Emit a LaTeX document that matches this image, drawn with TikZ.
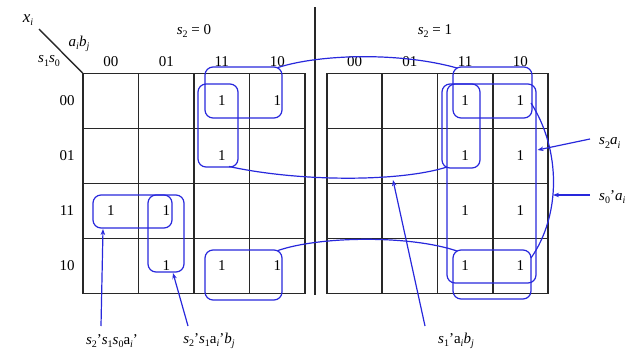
\documentclass[tikz,border=0pt]{standalone}
\usepackage{fontspec}
\setmainfont{Liberation Serif}
\usetikzlibrary{arrows.meta}
\newcommand\sbs[1]{\raisebox{-0.45ex}{\fontsize{10}{11}\selectfont #1}}
\newcommand\iv[1]{\textit{#1}}
\definecolor{loopblue}{RGB}{40,40,220}
\definecolor{gridgray}{RGB}{40,40,40}
\begin{document}
\begin{tikzpicture}[x=1pt,y=-1pt,
  gridline/.style={draw=gridgray,line width=1.6pt,line cap=rect},
  kloop/.style={draw=loopblue,line width=1.2pt,rounded corners=8pt},
  kcurve/.style={draw=loopblue,line width=1.2pt},
  arr/.style={draw=loopblue,line width=1.2pt,-{Stealth[length=6pt,width=4.5pt]}},
  one/.style={font=\fontsize{15}{17}\selectfont,inner sep=0pt},
  lbl/.style={font=\fontsize{15}{17}\selectfont,inner sep=0pt}]
\useasboundingbox (0,0) rectangle (634,356);
% separator
\draw[draw=gridgray,line width=1.4pt] (315,7) -- (315,295);
% left grid
\foreach \x in {83,138.5,194,249.5,305} \draw[gridline] (\x,73.5) -- (\x,293.5);
\foreach \y in {73.5,128.5,183.5,238.5,293.5} \draw[gridline] (83,\y) -- (305,\y);
% right grid
\foreach \x in {327,382.25,437.5,492.75,548} \draw[gridline] (\x,73.5) -- (\x,293.5);
\foreach \y in {73.5,128.5,183.5,238.5,293.5} \draw[gridline] (327,\y) -- (548,\y);
% diagonal
\draw[draw=gridgray,line width=1.4pt] (39,29) -- (83,73.5);
% headings
\node[lbl,font=\fontsize{17}{19}\selectfont] (xi) at (28,20) {\iv{x}\sbs{\iv{i}}};
\node[lbl] (ab) at (79,44) {\iv{a}\sbs{\iv{i}}\iv{b}\sbs{\iv{j}}};
\node[lbl] (ss) at (49,61) {\iv{s}\sbs{1}\iv{s}\sbs{0}};
\node[lbl] (h0) at (194,31) {\iv{s}\sbs{2} = 0};
\node[lbl] (h1) at (435,31) {\iv{s}\sbs{2} = 1};
\foreach \t/\x [count=\i] in {00/110.75,01/166.25,11/221.75,10/277.25}
  \node[lbl] (lc\i) at (\x,62) {\t};
\foreach \t/\x [count=\i] in {00/354.6,01/409.9,11/465.1,10/520.4}
  \node[lbl] (rc\i) at (\x,62) {\t};
\foreach \t/\y [count=\i] in {00/101,01/156,11/211,10/266}
  \node[lbl] (rr\i) at (67,\y) {\t};
% ones
\foreach \x/\y [count=\i] in {221.75/101,277.25/101,221.75/156,110.75/211,166.25/211,166.25/266,221.75/266,277.25/266}
  \node[one] (lo\i) at (\x,\y) {1};
\foreach \y [count=\i] in {101,156,211,266} {
  \node[one] (ra\i) at (465.1,\y) {1};
  \node[one] (rb\i) at (520.4,\y) {1};
}
% loops left
\draw[kloop] (205,67) rectangle (282,118);
\draw[kloop] (198,84) rectangle (238,167);
\draw[kloop] (93,195) rectangle (172,228);
\draw[kloop] (148,195) rectangle (184,272);
\draw[kloop] (205,250) rectangle (282,300);
% loops right
\draw[kloop] (453,67) rectangle (532,118);
\draw[kloop] (442,84) rectangle (480,168);
\draw[kloop] (447,84) rectangle (536,283);
\draw[kloop] (453,250) rectangle (531,299);
% connecting curves
\draw[kcurve] (278,67.5) .. controls (320,54) and (400,52) .. (457,68);
\draw[kcurve] (229,166.5) .. controls (300,182) and (400,182) .. (447,167);
\draw[kcurve] (278,250.5) .. controls (320,236) and (410,235) .. (457,251);
\draw[kcurve] (531,103) .. controls (561,150) and (561,215) .. (531,258);
% labels
\node[lbl,anchor=west] (l4) at (599,143) {\iv{s}\sbs{2}\iv{a}\sbs{\iv{i}}};
\node[lbl,anchor=west] (l5) at (599,197) {\iv{s}\sbs{0}'\iv{a}\sbs{\iv{i}}};
\node[lbl] (l1) at (112,341) {\iv{s}\sbs{2}'\iv{s}\sbs{1}\iv{s}\sbs{0}a\sbs{\iv{i}}'};
\node[lbl] (l2) at (209,341) {\iv{s}\sbs{2}'\iv{s}\sbs{1}a\sbs{\iv{i}}'\iv{b}\sbs{\iv{j}}};
\node[lbl] (l3) at (456,341) {\iv{s}\sbs{1}'a\sbs{\iv{i}}\iv{b}\sbs{\iv{j}}};
% arrows
\coordinate (t1) at (103,229);
\coordinate (t2) at (173,273);
\coordinate (t3) at (393,180);
\coordinate (t4) at (537.5,150);
\coordinate (t5) at (553,195);
\coordinate (s1) at (101,326);
\coordinate (s2) at (188,326);
\coordinate (s3) at (425,326);
\coordinate (s4) at (590,139);
\coordinate (s5) at (590,195);
\draw[arr] (s1) -- (t1);
\draw[arr] (s2) -- (t2);
\draw[arr] (s3) -- (t3);
\draw[arr] (s4) -- (t4);
\draw[arr] (s5) -- (t5);
\end{tikzpicture}
\end{document}
